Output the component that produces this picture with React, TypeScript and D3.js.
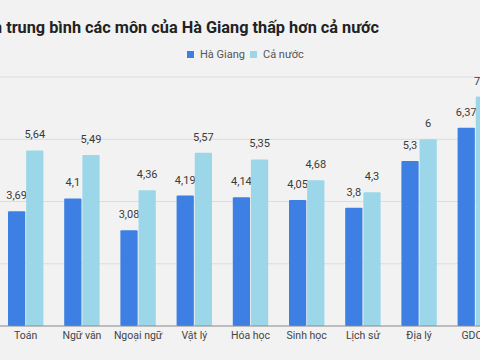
import React from "react";
import * as d3 from "d3";

// Data
const subjects = ["Toán", "Ngữ văn", "Ngoại ngữ", "Vật lý", "Hóa học", "Sinh học", "Lịch sử", "Địa lý", "GDCD"];
const haGiang = [3.69, 4.1, 3.08, 4.19, 4.14, 4.05, 3.8, 5.3, 6.37];
const caNuoc = [5.64, 5.49, 4.36, 5.57, 5.35, 4.68, 4.3, 6, 7.37];
const yTicks = [0, 2, 4, 6, 8];
const seriesNames = ["Hà Giang", "Cả nước"];
const colors = ["#3d7fe3", "#9bd7e9"];

const W = 480, H = 360;
const fmt = (v: number) => String(v).replace(".", ",");

const App: React.FC = () => {
  const x = d3.scaleBand<string>().domain(subjects).range([-2.4, 503.4]).paddingInner(0.37).paddingOuter(0.185);
  const xSub = d3.scaleBand<string>().domain(seriesNames).range([0, x.bandwidth()]).paddingInner(0.05);
  const y = d3.scaleLinear().domain([0, 8]).range([326, 77]);

  const series = [haGiang, caNuoc];

  return (
    <svg width={W} height={H} style={{ position: "absolute", left: 0, top: 0, background: "#f2f2f2" }}
      fontFamily="Roboto, 'Noto Sans', sans-serif">
      <rect width={W} height={H} fill="#f2f2f2" />
      <text x={379} y={33} textAnchor="end" fontSize={16.3} fontWeight="bold" fill="#222">
        Điểm trung bình các môn của Hà Giang thấp hơn cả nước
      </text>

      {/* legend */}
      {seriesNames.map((s, i) => (
        <g key={s} transform={`translate(${i === 0 ? 187 : 250},51)`}>
          <rect width={7} height={7} fill={colors[i]} />
          <text x={13} y={7} fontSize={11} fill="#555">{s}</text>
        </g>
      ))}

      {/* grid */}
      {yTicks.slice(1).map((t) => (
        <line key={t} x1={0} x2={W} y1={y(t)} y2={y(t)} stroke="#dcdcdc" strokeWidth={1} />
      ))}

      {/* bars */}
      {subjects.map((c, i) => (
        <g key={c} transform={`translate(${x(c)},0)`}>
          {series.map((vals, j) => {
            const bx = xSub(seriesNames[j])!;
            const v = vals[i];
            return (
              <g key={j}>
                <rect x={bx} y={y(v)} width={xSub.bandwidth()} height={y(0) - y(v)} fill={colors[j]} rx={1} />
                <text x={bx + xSub.bandwidth() / 2} y={y(v) - 12} textAnchor="middle" fontSize={11} fill="#3a3a3a">
                  {fmt(v)}
                </text>
              </g>
            );
          })}
          <text x={x.bandwidth() / 2} y={338.5} textAnchor="middle" fontSize={10.5} fill="#444">{c}</text>
        </g>
      ))}

      <line x1={0} x2={W} y1={y(0)} y2={y(0)} stroke="#888" strokeWidth={1} />
    </svg>
  );
};

export default App;
